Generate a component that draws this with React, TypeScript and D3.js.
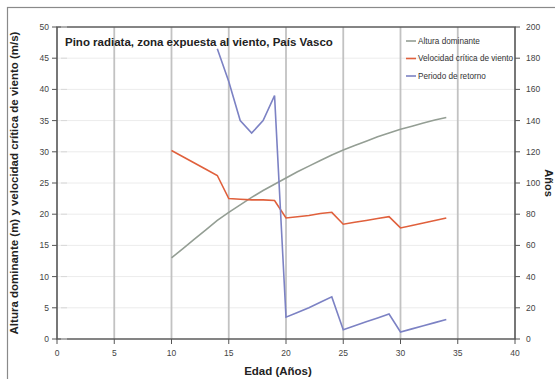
import React from "react";
import * as d3 from "d3";

const ages = [10, 11, 12, 13, 14, 15, 16, 17, 18, 19, 20, 21, 22, 23, 24, 25, 26, 27, 28, 29, 30, 31, 32, 33, 34];
const alturaDominante = [13, 14.5, 16, 17.5, 19, 20.3, 21.5, 22.7, 23.8, 24.8, 25.8, 26.8, 27.7, 28.6, 29.5, 30.3, 31, 31.7, 32.4, 33, 33.6, 34.1, 34.6, 35.1, 35.5];
const velocidadCritica = [30.2, 29.2, 28.2, 27.2, 26.2, 22.5, 22.4, 22.3, 22.3, 22.2, 19.4, 19.6, 19.8, 20.1, 20.3, 18.4, 18.7, 19, 19.3, 19.6, 17.8, 18.2, 18.6, 19, 19.4];
const retornoAges = [14, 15, 16, 17, 18, 19, 20, 21, 22, 23, 24, 25, 26, 27, 28, 29, 30, 31, 32, 33, 34];
const periodoRetorno = [186, 165, 140, 132, 140, 156, 14, 17, 20, 23.5, 27, 6, 8.5, 11, 13.5, 16, 4.5, 6.5, 8.5, 10.5, 12.5];

const xTicks = [0, 5, 10, 15, 20, 25, 30, 35, 40];
const yLeftTicks = [0, 5, 10, 15, 20, 25, 30, 35, 40, 45, 50];
const yRightTicks = [0, 20, 40, 60, 80, 100, 120, 140, 160, 180, 200];
const legendLabels = ["Altura dominante", "Velocidad crítica de viento", "Periodo de retorno"];

const titleText = "Pino radiata, zona expuesta al viento, País Vasco";

export default function App() {
  const W = 555, H = 379;
  const L = 57, R = 515, T = 27, B = 339;
  const x = d3.scaleLinear().domain([0, 40]).range([L, R]);
  const yL = d3.scaleLinear().domain([0, 50]).range([B, T]);
  const yR = d3.scaleLinear().domain([0, 200]).range([B, T]);

  const green = "#949e94";
  const red = "#e0603c";
  const blue = "#7c82c4";
  const colors = [green, red, blue];

  const lineL = d3.line<[number, number]>().x((d) => x(d[0])).y((d) => yL(d[1]));
  const lineR = d3.line<[number, number]>().x((d) => x(d[0])).y((d) => yR(d[1]));

  const gPath = lineL(ages.map((a, i) => [a, alturaDominante[i]]) as [number, number][]) || "";
  const rPath = lineL(ages.map((a, i) => [a, velocidadCritica[i]]) as [number, number][]) || "";
  const bPath = lineR(retornoAges.map((a, i) => [a, periodoRetorno[i]]) as [number, number][]) || "";

  const font = "Liberation Sans, Arial, sans-serif";

  return (
    <svg width={W} height={H} style={{ position: "absolute", left: 0, top: 0, background: "#fff" }} fontFamily={font}>
      <rect x={7.5} y={7.5} width={600} height={400} fill="#fff" stroke="#8a8a8a" strokeWidth={1.2} />
      <defs>
        <clipPath id="plotClip">
          <rect x={L} y={T} width={R - L} height={B - T} />
        </clipPath>
      </defs>
      {/* horizontal faint gridlines */}
      {yLeftTicks.map((t) => (
        <line key={"h" + t} x1={L} x2={R} y1={yL(t)} y2={yL(t)} stroke="#ececec" strokeWidth={1} />
      ))}
      {/* vertical gridlines */}
      {xTicks.map((t) => (
        <line key={"v" + t} x1={x(t)} x2={x(t)} y1={T} y2={B} stroke="#c2c2c2" strokeWidth={1.8} />
      ))}
      {/* series */}
      <g clipPath="url(#plotClip)">
        <path d={gPath} fill="none" stroke={green} strokeWidth={1.6} />
        <path d={rPath} fill="none" stroke={red} strokeWidth={1.6} />
        <path d={bPath} fill="none" stroke={blue} strokeWidth={1.6} />
      </g>
      {/* plot frame */}
      <rect x={L} y={T} width={R - L} height={B - T} fill="none" stroke="#555" strokeWidth={1.4} />
      {/* left ticks */}
      {yLeftTicks.map((t) => (
        <g key={"yl" + t}>
          <line x1={L - 5} x2={L} y1={yL(t)} y2={yL(t)} stroke="#555" strokeWidth={1} />
          <line x1={L + 4} x2={L + 10} y1={yL(t)} y2={yL(t)} stroke="#d8d8d8" strokeWidth={1} />
          <text x={L - 8} y={yL(t)} dy="0.35em" textAnchor="end" fontSize={8.5} fill="#444">{t}</text>
        </g>
      ))}
      {/* right ticks */}
      {yRightTicks.map((t) => (
        <g key={"yr" + t}>
          <line x1={R} x2={R + 5} y1={yR(t)} y2={yR(t)} stroke="#555" strokeWidth={1} />
          <text x={R + 11} y={yR(t)} dy="0.35em" textAnchor="start" fontSize={8.5} fill="#444">{t}</text>
        </g>
      ))}
      {/* bottom ticks */}
      {xTicks.map((t) => (
        <g key={"xt" + t}>
          <line x1={x(t)} x2={x(t)} y1={B} y2={B + 5} stroke="#555" strokeWidth={1} />
          <text x={x(t)} y={B + 17} textAnchor="middle" fontSize={8.5} fill="#444">{t}</text>
        </g>
      ))}
      {/* title */}
      <text x={65} y={46} fontSize={11.5} fontWeight="bold" fill="#222">{titleText}</text>
      {/* legend */}
      {legendLabels.map((lab, i) => (
        <g key={lab}>
          <line x1={406} x2={416} y1={41 + i * 17.5} y2={41 + i * 17.5} stroke={colors[i]} strokeWidth={1.6} />
          <text x={418} y={41 + i * 17.5} dy="0.35em" fontSize={8.2} fill="#333">{lab}</text>
        </g>
      ))}
      {/* axis titles */}
      <text transform={`translate(14,${(T + B) / 2}) rotate(-90)`} textAnchor="middle" dy="0.35em" fontSize={11.5} fontWeight="bold" fill="#222">
        Altura dominante (m) y velocidad crítica de viento (m/s)
      </text>
      <text transform={`translate(549,${(T + B) / 2}) rotate(90)`} textAnchor="middle" dy="0.35em" fontSize={11} fontWeight="bold" fill="#222">
        Años
      </text>
      <text x={278} y={375} textAnchor="middle" fontSize={11.5} fontWeight="bold" fill="#222">Edad (Años)</text>
    </svg>
  );
}
